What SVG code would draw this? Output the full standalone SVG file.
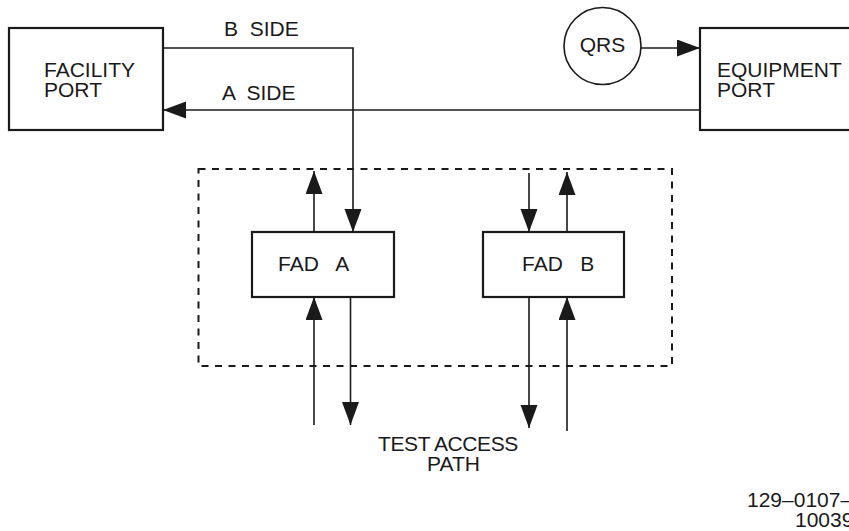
<svg xmlns="http://www.w3.org/2000/svg" width="849" height="531" viewBox="0 0 849 531">
  <style>
    .box { fill: #fff; stroke: #1a1a1a; stroke-width: 2.2; }
    .wire { fill: none; stroke: #1a1a1a; stroke-width: 1.6; }
    .frame { fill: none; stroke: #1a1a1a; stroke-width: 2; stroke-dasharray: 7 6.5; }
    .lbl { font-family: "Liberation Sans", Arial, sans-serif; font-size: 21px; fill: #1a1a1a; }
  </style>
  <defs>
    <marker id="arrow" markerUnits="userSpaceOnUse" markerWidth="24" markerHeight="18" refX="23" refY="8.5" orient="auto">
      <path d="M0,0 L23,8.5 L0,17 Z" fill="#1a1a1a"/>
    </marker>
  </defs>

  <rect width="849" height="531" fill="#fff"/>

  <!-- test access boundary -->
  <rect class="frame" x="198.5" y="169" width="473.5" height="197"/>

  <g id="facility-port">
    <rect class="box" x="9" y="28" width="154" height="102"/>
    <text class="lbl" x="44" y="77">FACILITY</text>
    <text class="lbl" x="44" y="97">PORT</text>
  </g>

  <g id="equipment-port">
    <rect class="box" x="700" y="28" width="160" height="102"/>
    <text class="lbl" x="717" y="77">EQUIPMENT</text>
    <text class="lbl" x="717" y="97">PORT</text>
  </g>

  <g id="qrs">
    <circle cx="602.5" cy="46" r="38.5" fill="#fff" stroke="#1a1a1a" stroke-width="1.6"/>
    <text class="lbl" x="602.5" y="52" text-anchor="middle">QRS</text>
  </g>

  <g id="fad-a">
    <rect class="box" x="252" y="232" width="142" height="65"/>
    <text class="lbl" x="278" y="271" xml:space="preserve">FAD   A</text>
  </g>

  <g id="fad-b">
    <rect class="box" x="483" y="232" width="141" height="65"/>
    <text class="lbl" x="522" y="271" xml:space="preserve">FAD   B</text>
  </g>

  <g id="connectors">
    <polyline class="wire" points="163,48 353,48 353,232" marker-end="url(#arrow)"/>
    <line class="wire" x1="700" y1="110" x2="163" y2="110" marker-end="url(#arrow)"/>
    <line class="wire" x1="641" y1="48" x2="700" y2="48" marker-end="url(#arrow)"/>

    <line class="wire" x1="314" y1="232" x2="314" y2="171" marker-end="url(#arrow)"/>
    <line class="wire" x1="314" y1="425" x2="314" y2="297" marker-end="url(#arrow)"/>
    <line class="wire" x1="350.5" y1="297" x2="350.5" y2="425" marker-end="url(#arrow)"/>

    <line class="wire" x1="529" y1="173" x2="529" y2="232" marker-end="url(#arrow)"/>
    <line class="wire" x1="567" y1="232" x2="567" y2="172" marker-end="url(#arrow)"/>
    <line class="wire" x1="529" y1="297" x2="529" y2="428" marker-end="url(#arrow)"/>
    <line class="wire" x1="567" y1="431" x2="567" y2="297" marker-end="url(#arrow)"/>
  </g>

  <g id="labels">
    <text class="lbl" x="224" y="36" xml:space="preserve">B  SIDE</text>
    <text class="lbl" x="222" y="100" xml:space="preserve">A  SIDE</text>
    <text class="lbl" x="378" y="451" letter-spacing="-0.4">TEST ACCESS</text>
    <text class="lbl" x="427" y="471">PATH</text>
    <text class="lbl" x="747" y="507">129–0107–</text>
    <text class="lbl" x="795" y="527">10039</text>
  </g>
</svg>
